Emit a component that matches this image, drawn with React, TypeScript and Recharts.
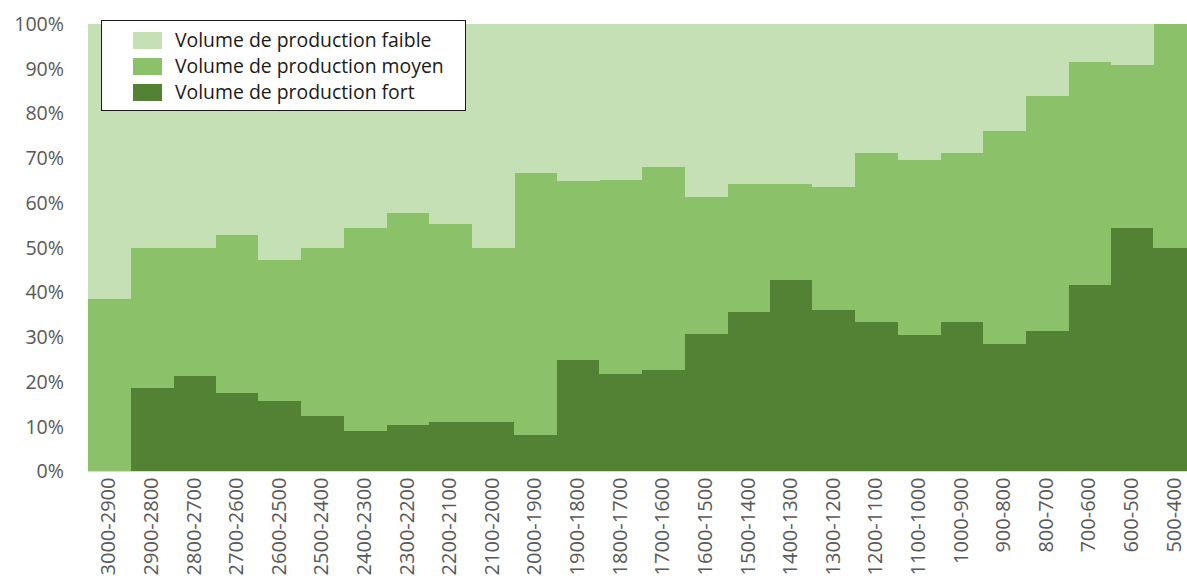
import React from "react";
import { BarChart, Bar, XAxis, YAxis } from "recharts";

// Periods (years BC)
const periods = [
  "3000-2900", "2900-2800", "2800-2700", "2700-2600", "2600-2500", "2500-2400",
  "2400-2300", "2300-2200", "2200-2100", "2100-2000", "2000-1900", "1900-1800",
  "1800-1700", "1700-1600", "1600-1500", "1500-1400", "1400-1300", "1300-1200",
  "1200-1100", "1100-1000", "1000-900", "900-800", "800-700", "700-600",
  "600-500", "500-400",
];

// Share of sites (%) by production volume
const fort = [
  0, 18.7, 21.3, 17.6, 15.8, 12.4, 9.1, 10.4, 11.1, 11.1, 8.2, 24.9, 21.7,
  22.7, 30.7, 35.6, 42.8, 36.2, 33.3, 30.4, 33.3, 28.6, 31.5, 41.7, 54.5, 50,
];
const moyen = [
  38.5, 31.3, 28.7, 35.2, 31.5, 37.6, 45.3, 47.4, 44.2, 38.9, 58.4, 40.0, 43.4,
  45.3, 30.7, 28.6, 21.4, 27.4, 37.9, 39.1, 37.9, 47.5, 52.4, 49.9, 36.3, 50,
];
const faible = [
  61.5, 50, 50, 47.2, 52.7, 50, 45.6, 42.2, 44.7, 50, 33.4, 35.1, 34.9, 32.0,
  38.6, 35.8, 35.8, 36.4, 28.8, 30.5, 28.8, 23.9, 16.1, 8.4, 9.2, 0,
];

const yTicks = [0, 10, 20, 30, 40, 50, 60, 70, 80, 90, 100];

const COLORS = {
  faible: "#C5E0B4",
  moyen: "#8BC168",
  fort: "#548235",
};

const legendItems = [
  { key: "faible", label: "Volume de production faible" },
  { key: "moyen", label: "Volume de production moyen" },
  { key: "fort", label: "Volume de production fort" },
];

const data = periods.map((p, i) => ({
  period: p,
  fort: fort[i],
  moyen: moyen[i],
  faible: faible[i],
}));

const FONT = "'Open Sans', sans-serif";

const XTick = (props: any) => {
  const { x, y, payload } = props;
  return (
    <text
      x={x}
      y={y}
      dy="0.3em"
      transform={`rotate(-90, ${x}, ${y})`}
      textAnchor="end"
      fontSize={20}
      fontFamily={FONT}
      fill="#595959"
    >
      {payload.value}
    </text>
  );
};

const YTick = (props: any) => {
  const { y, payload } = props;
  return (
    <text
      x={64}
      y={y}
      dy="0.35em"
      textAnchor="end"
      fontSize={19.6}
      fontFamily={FONT}
      fill="#595959"
    >
      {payload.value}%
    </text>
  );
};

const LegendBox = () => (
  <div
    style={{
      position: "absolute",
      left: 101,
      top: 20,
      width: 365,
      height: 91,
      background: "#fff",
      border: "1.5px solid #1a1a1a",
      boxSizing: "border-box",
      paddingTop: 6,
      paddingLeft: 31,
      fontFamily: FONT,
      fontSize: 19.4,
      color: "#1a1a1a",
    }}
  >
    {legendItems.map((it) => (
      <div
        key={it.key}
        style={{ display: "flex", alignItems: "center", height: 26.2 }}
      >
        <span
          style={{
            display: "inline-block",
            width: 29,
            height: 17,
            background: (COLORS as any)[it.key],
            marginRight: 13,
          }}
        />
        <span style={{ lineHeight: "22px" }}>{it.label}</span>
      </div>
    ))}
  </div>
);

export default function App() {
  return (
    <div
      style={{
        position: "absolute",
        left: 0,
        top: 0,
        width: 1187,
        height: 576,
        overflow: "hidden",
        background: "#fff",
      }}
    >
      <style>{`.recharts-bar-rectangle path { shape-rendering: crispEdges; }`}</style>
      <BarChart
        width={1200}
        height={576}
        data={data}
        margin={{ top: 24, right: 4, bottom: 0, left: 0 }}
        barCategoryGap={0}
        barGap={0}
      >
        <XAxis
          dataKey="period"
          interval={0}
          height={104.5}
          tickLine={false}
          tickMargin={0}
          axisLine={{ stroke: "#D9D9D9", strokeWidth: 1 }}
          tick={<XTick />}
        />
        <YAxis
          width={88}
          domain={[0, 100]}
          ticks={yTicks}
          axisLine={false}
          tickLine={false}
          tick={<YTick />}
        />
        <Bar dataKey="fort" stackId="s" fill={COLORS.fort} isAnimationActive={false} />
        <Bar dataKey="moyen" stackId="s" fill={COLORS.moyen} isAnimationActive={false} />
        <Bar dataKey="faible" stackId="s" fill={COLORS.faible} isAnimationActive={false} />
      </BarChart>
      <LegendBox />
    </div>
  );
}
